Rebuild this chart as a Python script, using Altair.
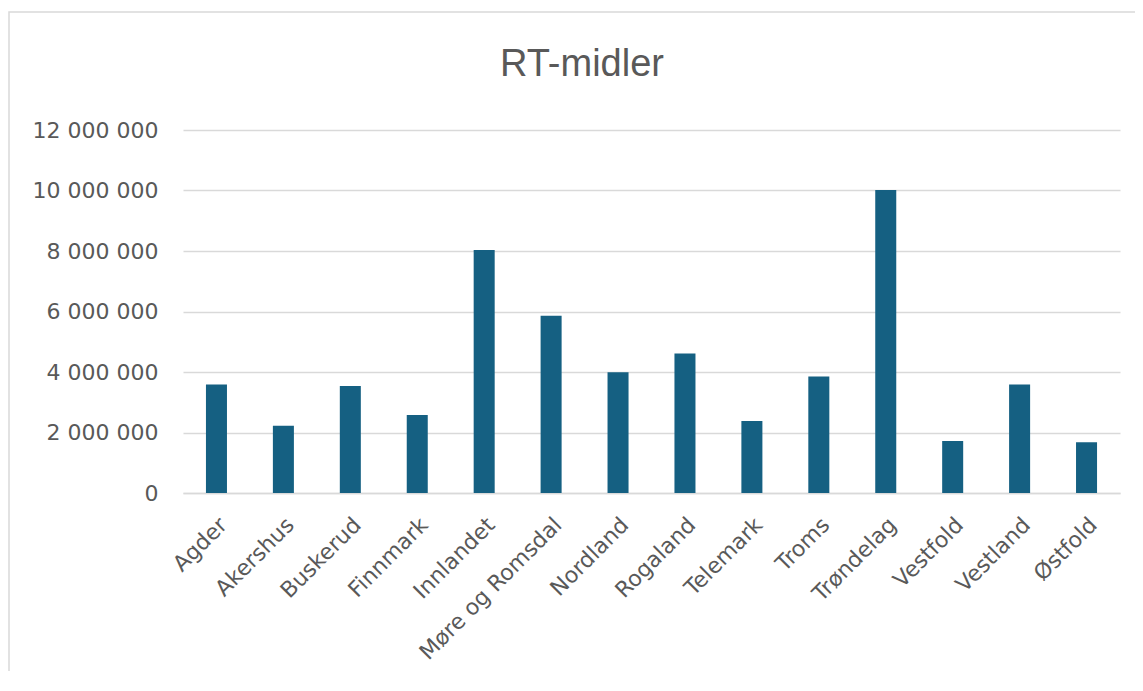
import altair as alt
import pandas as pd

regions = ["Agder", "Akershus", "Buskerud", "Finnmark", "Innlandet", "Møre og Romsdal",
           "Nordland", "Rogaland", "Telemark", "Troms", "Trøndelag", "Vestfold",
           "Vestland", "Østfold"]
values = [3590000, 2220000, 3540000, 2580000, 8030000, 5860000,
          3990000, 4610000, 2380000, 3850000, 10020000, 1720000,
          3590000, 1680000]
y_ticks = [0, 2000000, 4000000, 6000000, 8000000, 10000000, 12000000]
chart_title = "RT-midler"

df = pd.DataFrame({"region": regions, "value": values})

W, H = 937, 363
GREY = "#595959"

bars = alt.Chart(df).mark_bar(color="#156082").encode(
    x=alt.X("region:N", sort=regions, title=None,
            scale=alt.Scale(paddingInner=0.686, paddingOuter=0.343),
            axis=alt.Axis(labelAngle=-45, labelAlign="right", labelBaseline="middle",
                          labelFontSize=22, labelColor=GREY, labelFont="DejaVu Sans",
                          labelPadding=28, labelOffset=7, labelLimit=400, ticks=False,
                          domain=True, domainColor="#d9d9d9", domainWidth=1.5,
                          labelOverlap=False)),
    y=alt.Y("value:Q", title=None,
            scale=alt.Scale(domain=[0, 12000000], nice=False),
            axis=alt.Axis(values=y_ticks, domain=False, ticks=False,
                          labelFontSize=22, labelColor=GREY, labelFont="DejaVu Sans",
                          labelPadding=25, gridColor="#d9d9d9", gridWidth=1.5,
                          labelExpr="replace(format(datum.value, ','), regexp(',', 'g'), ' ')")),
)

border = alt.Chart(pd.DataFrame({"k": [0]})).mark_rect(
    fill=None, stroke="#d9d9d9", strokeWidth=1.5, clip=False
).encode(
    x=alt.value(-174), x2=alt.value(W + 60),
    y=alt.value(-118), y2=alt.value(H + 400),
)

title = alt.Chart(pd.DataFrame({"t": [chart_title]})).mark_text(
    font="Liberation Sans", fontSize=38, color=GREY, align="center", baseline="alphabetic"
).encode(
    text="t:N", x=alt.value(399), y=alt.value(-54),
)

chart = alt.layer(border, bars, title).properties(
    width=W, height=H,
    autosize=alt.AutoSizeParams(type="none"),
    padding={"left": 175, "top": 122, "right": 15, "bottom": 178},
).configure_view(stroke=None)

chart.save("out.html", embed_options={"renderer": "svg", "actions": False})
